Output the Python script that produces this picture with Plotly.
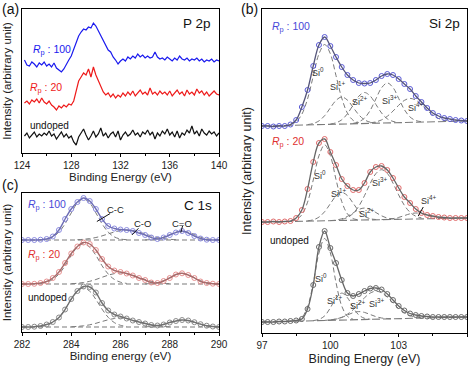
import plotly.graph_objects as go

# ---------------- (a) P 2p ----------------
P_X = [124.2, 124.4, 124.6, 124.8, 125.0, 125.2, 125.4, 125.6, 125.8, 126.0,
       126.2, 126.4, 126.6, 126.8, 127.0, 127.2, 127.4, 127.6, 127.8, 128.0,
       128.2, 128.4, 128.6, 128.8, 129.0, 129.2, 129.4, 129.6, 129.8, 130.0,
       130.2, 130.4, 130.6, 130.8, 131.0, 131.2, 131.4, 131.6, 131.8, 132.0,
       132.2, 132.4, 132.6, 132.8, 133.0, 133.2, 133.4, 133.6, 133.8, 134.0,
       134.2, 134.4, 134.6, 134.8, 135.0, 135.2, 135.4, 135.6, 135.8, 136.0,
       136.2, 136.4, 136.6, 136.8, 137.0, 137.2, 137.4, 137.6, 137.8, 138.0,
       138.2, 138.4, 138.6, 138.8, 139.0, 139.2, 139.4, 139.6, 139.8, 140.0]
P_RP100 = [93, 88, 87, 91, 89, 86, 90, 88, 91, 87,
           89, 86, 90, 85, 83, 81, 84, 89, 93, 97,
           104, 112, 117, 121, 124, 123, 126, 125, 130, 127,
           122, 118, 112, 108, 103, 101, 96, 93, 89, 92,
           94, 92, 96, 94, 97, 95, 99, 96, 98, 95,
           97, 95, 96, 101, 96, 94, 95, 93, 96, 94,
           92, 95, 93, 97, 94, 93, 95, 92, 94, 93,
           95, 92, 94, 91, 93, 92, 94, 91, 93, 92]
P_RP20 = [50, 52, 49, 53, 51, 54, 50, 55, 51, 49,
          52, 48, 46, 43, 47, 45, 48, 46, 49, 48,
          52, 62, 72, 76, 80, 78, 84, 76, 86, 78,
          72, 66, 61, 58, 60, 56, 59, 55, 58, 56,
          60, 57, 61, 58, 62, 57, 60, 63, 59, 61,
          58, 65, 59, 61, 58, 62, 59, 61, 58, 62,
          57, 60, 63, 59, 61, 57, 63, 59, 61, 58,
          64, 60, 62, 58, 61, 57, 60, 62, 59, 58]
P_UNDOPED = [17, 20, 15, 18, 21, 16, 19, 17, 20, 18,
             22, 17, 19, 14, 18, 21, 16, 19, 15, 17,
             11, 8, 16, 20, 24, 18, 13, 17, 22, 16,
             19, 25, 17, 20, 15, 19, 21, 16, 22, 13,
             18, 21, 17, 19, 23, 18, 20, 16, 21, 19,
             23, 18, 21, 14, 20, 17, 22, 19, 24, 18,
             21, 16, 22, 15, 20, 18, 23, 20, 27, 19,
             22, 17, 24, 20, 18, 22, 19, 21, 17, 20]

# ---------------- (b) Si 2p ----------------
SI_X = [97.0, 97.25, 97.5, 97.75, 98.0, 98.25, 98.5, 98.75, 99.0, 99.25,
        99.5, 99.75, 100.0, 100.25, 100.5, 100.75, 101.0, 101.25, 101.5, 101.75,
        102.0, 102.25, 102.5, 102.75, 103.0, 103.25, 103.5, 103.75, 104.0, 104.25,
        104.5, 104.75, 105.0, 105.25, 105.5, 105.75, 106.0]
SI_RP100 = [207, 207, 206.5, 207, 207, 208.5, 213, 226, 243, 267,
            288, 296, 287, 276, 266, 258, 253, 250, 249.5, 250,
            253, 257, 259, 258, 254, 249, 244, 237, 231, 225,
            220, 217, 215, 214, 213, 212.5, 212]
SI_RP20 = [111, 111, 111.5, 111, 111.5, 112, 115, 123, 144, 171,
           190, 194, 181, 168, 154, 147, 143, 143, 150, 161,
           166, 167, 163, 155, 145, 136, 130, 124, 120, 118,
           117, 116, 115.5, 115, 115, 115, 115]
SI_UNDOPED = [11, 11, 11, 11.5, 11.5, 12, 12.5, 14, 24, 48,
              86, 102, 85, 70, 53, 40, 37, 39, 42, 44.5,
              45, 43.5, 39, 33, 27, 22.5, 19.5, 18, 17, 16.5,
              16, 16, 16, 16, 16, 16, 16]
SI_BASE_X = [97, 106]
SI_BASE_RP100 = [207, 212]
SI_BASE_RP20 = [111, 115]
SI_BASE_UNDOPED = [11, 16]

# fitted components (Rp:100)
B_SI0_X = [98.25, 98.5, 98.75, 99.0, 99.25, 99.5, 99.75, 100.0, 100.25, 100.5, 100.75, 101.0, 101.25]
B_SI0_Y = [208.6, 211.3, 218.8, 234.1, 256.8, 279.0, 288.5, 279.3, 257.3, 235.0, 219.9, 212.7, 210.3]
B_SI1_X = [99.0, 99.25, 99.5, 99.75, 100.0, 100.25, 100.5, 100.75, 101.0, 101.25, 101.5, 101.75, 102.0]
B_SI1_Y = [208.4, 209.5, 212.1, 217.3, 225.1, 232.6, 236.0, 232.9, 225.6, 218.2, 213.2, 210.8, 210.1]
B_SI2_X = [100.0, 100.25, 100.5, 100.75, 101.0, 101.25, 101.5, 101.75, 102.0, 102.25, 102.5, 102.75, 103.0]
B_SI2_Y = [209.0, 210.2, 213.2, 219.2, 228.0, 236.8, 240.5, 237.0, 228.6, 220.0, 214.2, 211.6, 210.6]
B_SI3_X = [101.0, 101.25, 101.5, 101.75, 102.0, 102.25, 102.5, 102.75, 103.0, 103.25, 103.5, 103.75, 104.0]
B_SI3_Y = [209.6, 211.2, 214.9, 222.6, 234.1, 245.2, 250.0, 245.5, 234.6, 223.4, 216.0, 212.5, 211.3]
B_SI4_X = [101.75, 102.0, 102.25, 102.5, 102.75, 103.0, 103.25, 103.5, 103.75, 104.0, 104.25, 104.5, 104.75, 105.0, 105.25]
B_SI4_Y = [210.2, 211.1, 213.1, 216.7, 221.9, 227.7, 232.6, 234.6, 232.9, 228.3, 222.7, 217.8, 214.5, 212.7, 212.0]
# fitted components (Rp:20)
R_SI0_X = [98.25, 98.5, 98.75, 99.0, 99.25, 99.5, 99.75, 100.0, 100.25, 100.5, 100.75, 101.0, 101.25]
R_SI0_Y = [111.9, 113.3, 118.3, 130.8, 153.0, 177.2, 188.2, 177.4, 153.4, 131.5, 119.2, 114.4, 113.2]
R_SI1_X = [99.0, 99.25, 99.5, 99.75, 100.0, 100.25, 100.5, 100.75, 101.0, 101.25, 101.5, 101.75, 102.0]
R_SI1_Y = [112.2, 113.2, 115.9, 121.3, 129.3, 137.1, 140.6, 137.4, 129.8, 122.0, 116.8, 114.3, 113.5]
R_SI2_X = [100.0, 100.25, 100.5, 100.75, 101.0, 101.25, 101.5, 101.75, 102.0, 102.25, 102.5, 102.75, 103.0]
R_SI2_Y = [112.4, 112.9, 114.2, 116.6, 120.1, 123.5, 125.0, 123.7, 120.5, 117.2, 115.0, 114.1, 113.8]
R_SI3_X = [100.5, 100.75, 101.0, 101.25, 101.5, 101.75, 102.0, 102.25, 102.5, 102.75, 103.0, 103.25, 103.5, 103.75, 104.0]
R_SI3_Y = [113.6, 115.5, 119.6, 126.8, 137.4, 149.4, 159.4, 163.3, 159.6, 149.9, 138.1, 127.7, 120.7, 116.8, 115.1]
R_SI4_X = [102.25, 102.5, 102.75, 103.0, 103.25, 103.5, 103.75, 104.0, 104.25, 104.5, 104.75, 105.0, 105.25]
R_SI4_Y = [113.4, 113.7, 114.4, 115.6, 117.4, 119.2, 120.0, 119.4, 117.8, 116.2, 115.3, 114.9, 114.8]
# fitted components (undoped)
G_SI0_X = [98.5, 98.75, 99.0, 99.25, 99.5, 99.75, 100.0, 100.25, 100.5, 100.75, 101.0]
G_SI0_Y = [12.4, 15.6, 26.2, 49.7, 79.9, 94.5, 80.2, 50.3, 27.0, 16.7, 13.8]
G_SI1_X = [99.25, 99.5, 99.75, 100.0, 100.25, 100.5, 100.75, 101.0, 101.25, 101.5, 101.75]
G_SI1_Y = [12.4, 13.6, 17.1, 25.1, 35.0, 39.9, 35.3, 25.6, 18.0, 14.7, 13.8]
G_SI2_X = [99.75, 100.0, 100.25, 100.5, 100.75, 101.0, 101.25, 101.5, 101.75, 102.0, 102.25, 102.5, 102.75]
G_SI2_Y = [12.6, 13.1, 13.9, 15.5, 18.0, 20.3, 21.4, 20.6, 18.5, 16.4, 15.0, 14.5, 14.3]
G_SI3_X = [100.0, 100.25, 100.5, 100.75, 101.0, 101.25, 101.5, 101.75, 102.0, 102.25, 102.5, 102.75, 103.0, 103.25, 103.5, 103.75, 104.0]
G_SI3_Y = [13.2, 14.0, 15.7, 18.8, 23.3, 29.2, 35.2, 39.9, 41.8, 40.2, 35.8, 30.0, 24.4, 20.2, 17.4, 16.0, 15.4]

# ---------------- (c) C 1s ----------------
C_X = [282.0, 282.25, 282.5, 282.75, 283.0, 283.25, 283.5, 283.75, 284.0, 284.25,
       284.5, 284.75, 285.0, 285.25, 285.5, 285.75, 286.0, 286.25, 286.5, 286.75,
       287.0, 287.25, 287.5, 287.75, 288.0, 288.25, 288.5, 288.75, 289.0, 289.25,
       289.5, 289.75, 290.0]
C_RP100 = [92, 92, 92, 92.3, 93, 95.5, 102, 113, 123, 130,
           134, 131, 123, 113, 106, 103.5, 102.5, 102, 101, 99,
           97, 94.5, 93, 94.5, 97, 99.5, 101, 99, 96, 93.5,
           92.3, 92, 92]
C_RP20 = [48, 48, 48.2, 49, 50.5, 54, 60, 69, 78.5, 85.5,
          89.5, 88, 82, 73, 65.5, 61.5, 60, 58.5, 56.5, 54,
          52, 49.5, 49, 51, 54, 57.5, 58.7, 57, 54, 50.5,
          49, 48.3, 48]
C_UNDOPED = [5, 5, 5.3, 6, 7.5, 10, 14.5, 22.5, 33, 41,
             45.5, 45, 39.5, 29, 21.5, 17.5, 15.5, 13.5, 11.5, 10,
             8.5, 7, 6.5, 7.5, 9.5, 11, 12, 11.5, 9.8, 7.8,
             6.3, 5.5, 5]
C_BASE_X = [282, 290]
C_BASE_RP100 = [92, 92]
C_BASE_RP20 = [48, 48]
C_BASE_UNDOPED = [5, 5]

CC_X = [282.75, 283.0, 283.25, 283.5, 283.75, 284.0, 284.25, 284.5, 284.75, 285.0, 285.25, 285.5, 285.75, 286.0, 286.25]
CO_X_100 = [284.25, 284.5, 284.75, 285.0, 285.25, 285.5, 285.75, 286.0, 286.25, 286.5, 286.75, 287.0, 287.25, 287.5, 287.75, 288.0, 288.25]
CO_X = [284.0, 284.25, 284.5, 284.75, 285.0, 285.25, 285.5, 285.75, 286.0, 286.25, 286.5, 286.75, 287.0, 287.25, 287.5, 287.75, 288.0]
CE_X = [287.0, 287.25, 287.5, 287.75, 288.0, 288.25, 288.5, 288.75, 289.0, 289.25, 289.5, 289.75, 290.0]
B_CC_Y = [92.3, 93, 95.1, 99.9, 108.2, 119.1, 129, 133, 129, 119.1, 108.2, 99.9, 95.1, 93, 92.3]
B_CO_Y = [92.3, 92.7, 93.4, 94.5, 96.1, 98.1, 100, 101.5, 102, 101.5, 100, 98.1, 96.1, 94.5, 93.4, 92.7, 92.3]
B_CE_Y = [92.1, 92.4, 93.2, 94.9, 97.5, 99.9, 101, 99.9, 97.5, 94.9, 93.2, 92.4, 92.1]
R_CC_Y = [48.6, 49.8, 52.6, 58, 66.3, 76.7, 84.7, 88, 84.7, 76.7, 66.3, 58, 52.6, 49.8, 48.6]
R_CO_Y = [48.3, 48.7, 49.5, 50.7, 52.5, 54.7, 56.8, 58.4, 59, 58.4, 56.8, 54.7, 52.5, 50.7, 49.5, 48.7, 48.3]
R_CE_Y = [48.1, 48.5, 49.4, 51.4, 54.4, 57.3, 58.5, 57.3, 54.4, 51.4, 49.4, 48.5, 48.1]
G_CC_Y = [5.5, 6.7, 9.4, 14.7, 22.9, 32.6, 40.8, 44, 40.8, 32.6, 22.9, 14.7, 9.4, 6.7, 5.5]
G_CO_Y = [5.2, 5.6, 6.2, 7.2, 8.7, 10.5, 12.2, 13.5, 14, 13.5, 12.2, 10.5, 8.7, 7.2, 6.2, 5.6, 5.2]
G_CE_Y = [5.2, 5.5, 6.3, 7.8, 9.6, 11.3, 12, 11.3, 9.6, 7.8, 6.3, 5.5, 5.2]

BLUE = "#1a1aee"
RED = "#ee1a1a"
FONT = "Arial, Liberation Sans, sans-serif"
DASH = "5px,3px"
COMP = "#7a7a7a"

fig = go.Figure()

def add(x, y, ax, **kw):
    fig.add_trace(go.Scatter(x=x, y=y, xaxis="x" + ax, yaxis="y" + ax,
                             showlegend=False, hoverinfo="skip", **kw))

# (a)
add(P_X, P_RP100, "", mode="lines", line=dict(color=BLUE, width=1.2))
add(P_X, P_RP20, "", mode="lines", line=dict(color=RED, width=1.2))
add(P_X, P_UNDOPED, "", mode="lines", line=dict(color="#111111", width=1.2))

# (b)
si_sets = [
    (SI_RP100, SI_BASE_RP100, "#5a5ad6", "#55557a",
     [(B_SI0_X, B_SI0_Y), (B_SI1_X, B_SI1_Y), (B_SI2_X, B_SI2_Y), (B_SI3_X, B_SI3_Y), (B_SI4_X, B_SI4_Y)]),
    (SI_RP20, SI_BASE_RP20, "#e06a6a", "#666666",
     [(R_SI0_X, R_SI0_Y), (R_SI1_X, R_SI1_Y), (R_SI2_X, R_SI2_Y), (R_SI3_X, R_SI3_Y), (R_SI4_X, R_SI4_Y)]),
    (SI_UNDOPED, SI_BASE_UNDOPED, "#6a6a6a", "#666666",
     [(G_SI0_X, G_SI0_Y), (G_SI1_X, G_SI1_Y), (G_SI2_X, G_SI2_Y), (G_SI3_X, G_SI3_Y)]),
]
for env, base, mcol, lcol, comps in si_sets:
    add(SI_BASE_X, base, "2", mode="lines", line=dict(color=COMP, width=1.1, dash="8px,3px"))
    for cx, cy in comps:
        add(cx, cy, "2", mode="lines", line=dict(color=COMP, width=1, dash=DASH, shape="spline"))
    add(SI_X, env, "2", mode="markers",
        marker=dict(symbol="circle-open", size=5, color=mcol, line=dict(width=1, color=mcol)))
    add(SI_X, env, "2", mode="lines", line=dict(color=lcol, width=1.3, shape="spline"))

# (c)
c_sets = [
    (C_RP100, C_BASE_RP100, "#8c8ce0", "#6e6eb4",
     [(CC_X, B_CC_Y), (CO_X_100, B_CO_Y), (CE_X, B_CE_Y)]),
    (C_RP20, C_BASE_RP20, "#e89090", "#a86a6a",
     [(CC_X, R_CC_Y), (CO_X, R_CO_Y), (CE_X, R_CE_Y)]),
    (C_UNDOPED, C_BASE_UNDOPED, "#8a8a8a", "#707070",
     [(CC_X, G_CC_Y), (CO_X, G_CO_Y), (CE_X, G_CE_Y)]),
]
for env, base, mcol, lcol, comps in c_sets:
    add(C_BASE_X, base, "3", mode="lines", line=dict(color=COMP, width=1.1, dash=DASH))
    for cx, cy in comps:
        add(cx, cy, "3", mode="lines", line=dict(color=COMP, width=1, dash=DASH, shape="spline"))
    add(C_X, env, "3", mode="markers",
        marker=dict(symbol="circle-open", size=5, color=mcol, line=dict(width=1, color=mcol)))
    add(C_X, env, "3", mode="lines", line=dict(color=lcol, width=1.4, shape="spline"))

W, H = 474, 366
def dx(a, b):
    return [a / W, b / W]
def dy(top, bottom):
    return [1 - bottom / H, 1 - top / H]

xcommon = dict(showline=True, linecolor="black", linewidth=1.3, mirror=True,
               ticks="outside", ticklen=3, tickwidth=1, tickcolor="black",
               showgrid=False, zeroline=False, automargin=False,
               tickfont=dict(size=10, color="#222", family=FONT))
ycommon = dict(showline=True, linecolor="black", linewidth=1.3, mirror=True, automargin=False,
               ticks="", showticklabels=False, showgrid=False, zeroline=False)

fig.update_layout(
    template="none",
    width=W, height=H, margin=dict(l=0, r=0, t=0, b=0, pad=0),
    paper_bgcolor="white", plot_bgcolor="white",
    font=dict(family=FONT, color="#222"),
    xaxis=dict(domain=dx(22, 219), range=[124, 140], anchor="y",
               tickvals=[124, 128, 132, 136, 140],
               minor=dict(tickvals=[126, 130, 134, 138], ticks="outside", ticklen=2, tickcolor="black"),
               title=dict(text="Binding Energy (eV)", font=dict(size=11.5), standoff=1), **xcommon),
    yaxis=dict(domain=dy(9, 153), range=[0, 144], anchor="x",
               title=dict(text="Intensity (arbitrary unit)", font=dict(size=11.5), standoff=6), **ycommon),
    xaxis2=dict(domain=dx(262, 467), range=[97, 106], anchor="y2",
                tickvals=[97, 100, 103, 106],
                minor=dict(tickvals=[98.5, 101.5, 104.5], ticks="outside", ticklen=2, tickcolor="black"),
                title=dict(text="Binding Energy (eV)", font=dict(size=12.5), standoff=4), **xcommon),
    yaxis2=dict(domain=dy(9, 333), range=[0, 324], anchor="x2",
                title=dict(text="Intensity (arbitrary unit)", font=dict(size=12.5), standoff=6), **ycommon),
    xaxis3=dict(domain=dx(22, 219), range=[282, 290], anchor="y3",
                tickvals=[282, 284, 286, 288, 290],
                minor=dict(tickvals=[283, 285, 287, 289], ticks="outside", ticklen=2, tickcolor="black"),
                title=dict(text="Binding energy (eV)", font=dict(size=11.5), standoff=2), **xcommon),
    yaxis3=dict(domain=dy(193, 332), range=[0, 139], anchor="x3",
                title=dict(text="Intensity (arbitrary unit)", font=dict(size=11.5), standoff=6), **ycommon),
)

ann = []
def text(x, y, t, ax, size=10, color="#222", xanchor="center"):
    ann.append(dict(x=x, y=y, xref="x" + ax, yref="y" + ax, text=t, showarrow=False,
                    xanchor=xanchor, yanchor="middle", font=dict(size=size, color=color, family=FONT)))

RP100 = "<i>R</i><sub>p</sub> : 100"
RP20 = "<i>R</i><sub>p</sub> : 20"
# panel labels
for t, px, py in [("(a)", 0, 9), ("(b)", 239, 9), ("(c)", 0, 185)]:
    ann.append(dict(x=px / W, y=1 - py / H, xref="paper", yref="paper", text=t, showarrow=False,
                    xanchor="left", yanchor="middle", font=dict(size=14, color="#111", family=FONT)))
# (a)
text(139.5, 130, "P 2p", "", 13.5, "#111", "right")
text(124.7, 103, RP100, "", 10.5, BLUE, "left")
text(124.5, 65, RP20, "", 10.5, RED, "left")
text(124.5, 28, "undoped", "", 10, "#111", "left")
# (b)
text(105.8, 310, "Si 2p", "2", 13.5, "#111", "right")
text(97.35, 306, RP100, "2", 10.5, "#4848d8", "left")
text(97.35, 191, RP20, "2", 10.5, "#e03030", "left")
text(97.25, 93, "undoped", "2", 10, "#111", "left")
for x, y, t in [(99.45, 261, "0"), (100.35, 247, "1+"), (101.3, 232, "2+"), (102.6, 233, "3+"), (103.75, 226, "4+"),
                (99.55, 158, "0"), (100.4, 140, "1+"), (101.6, 120, "2+"), (102.2, 151, "3+"), (104.35, 133, "4+"),
                (99.6, 55, "0"), (100.2, 33, "1+"), (101.2, 28, "2+"), (102.05, 30, "3+")]:
    text(x, y, "Si<sup>" + t + "</sup>", "2", 9, "#333")
# (c)
text(289.8, 127, "C 1s", "3", 13.5, "#111", "right")
text(282.15, 127, RP100, "3", 10.5, "#4848d8", "left")
text(282.15, 77, RP20, "3", 10.5, "#e03030", "left")
text(282.15, 35, "undoped", "3", 10, "#111", "left")
text(285.8, 123, "C-C", "3", 9.5, "#222")
text(286.9, 109, "C-O", "3", 9.5, "#222")
text(288.5, 109, "C=O", "3", 9.5, "#222")
fig.update_layout(annotations=ann)

shapes = []
for ax, x0, y0, x1, y1 in [("3", 285.58, 118.5, 285.04, 110.5), ("3", 286.73, 103.7, 286.46, 97),
                           ("3", 288.52, 106, 288.45, 99.5), ("2", 104.08, 126, 103.86, 117)]:
    shapes.append(dict(type="line", xref="x" + ax, yref="y" + ax, x0=x0, y0=y0, x1=x1, y1=y1,
                       line=dict(color="#111", width=1)))
fig.update_layout(shapes=shapes)

fig.write_html("out.html", config={"displayModeBar": False, "staticPlot": True},
               post_script="document.body.style.margin='0';document.body.style.overflow='hidden';")
